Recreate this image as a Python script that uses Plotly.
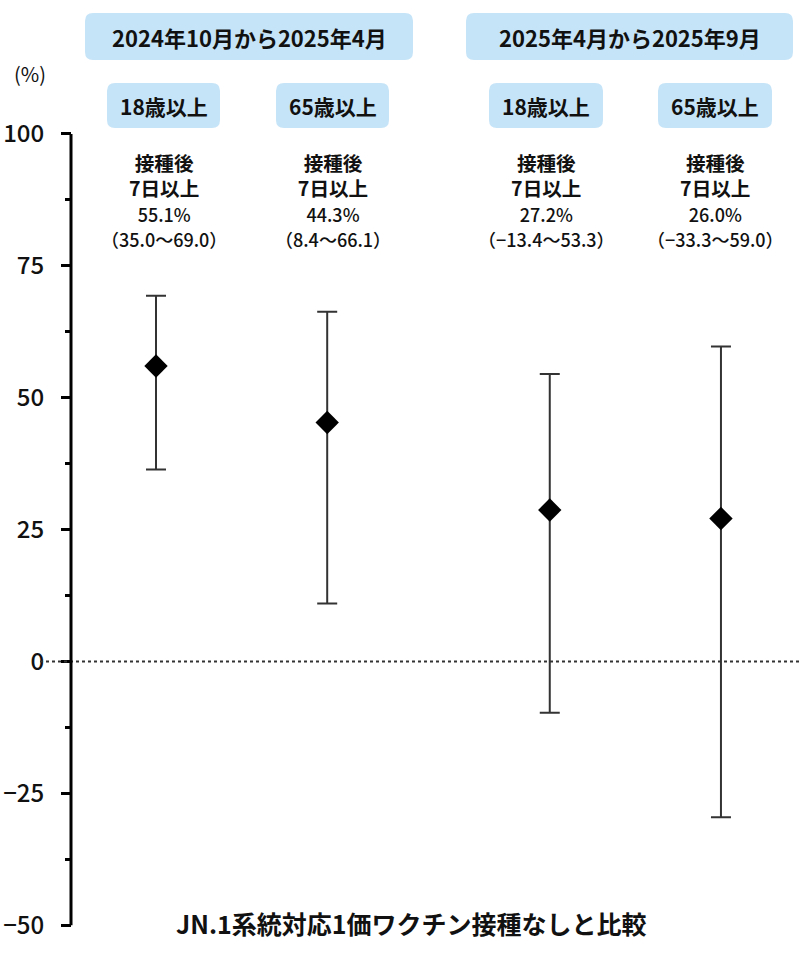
import plotly.graph_objects as go

# Datos del gráfico
periodos = ["2024年10月から2025年4月", "2025年4月から2025年9月"]
edades = ["18歳以上", "65歳以上", "18歳以上", "65歳以上"]
grupo = [0, 0, 1, 1]
estimado = [56.0, 45.3, 28.7, 27.1]
ic_bajo = [36.4, 11.0, -9.7, -29.5]
ic_alto = [69.3, 66.3, 54.5, 59.7]
etiqueta_pct = ["55.1%", "44.3%", "27.2%", "26.0%"]
etiqueta_ic = ["（35.0～69.0）", "（8.4～66.1）", "（−13.4～53.3）", "（−33.3～59.0）"]
titulo_x = "JN.1系統対応1価ワクチン接種なしと比較"

W, H = 800, 959
L = 40
FONT = "Noto Sans CJK JP"
AZUL = "#c6e4f7"

# posiciones x con hueco entre periodos
x_pos = [i + 1 + 0.3 * g for i, g in enumerate(grupo)]


def px_x(p):
    return (p - L) / (W - L)


def px_y(p):
    return 1 - p / H


def caja(x0, y0, x1, y1, r=8):
    pts = [
        ("M", x0 + r, y0), ("L", x1 - r, y0), ("Q", x1, y0, x1, y0 + r),
        ("L", x1, y1 - r), ("Q", x1, y1, x1 - r, y1), ("L", x0 + r, y1),
        ("Q", x0, y1, x0, y1 - r), ("L", x0, y0 + r), ("Q", x0, y0, x0 + r, y0),
    ]
    s = ""
    for p in pts:
        cmd, coords = p[0], p[1:]
        parts = []
        for k in range(0, len(coords), 2):
            parts.append(f"{px_x(coords[k]):.5f},{px_y(coords[k + 1]):.5f}")
        s += cmd + " ".join(parts) + " "
    return dict(type="path", path=s + "Z", xref="paper", yref="paper",
                fillcolor=AZUL, line=dict(width=0), layer="below")


fig = go.Figure()
fig.add_trace(go.Scatter(
    x=x_pos, y=estimado, mode="markers",
    marker=dict(symbol="diamond", size=18, color="black"),
    error_y=dict(type="data", symmetric=False,
                 array=[a - e for a, e in zip(ic_alto, estimado)],
                 arrayminus=[e - b for e, b in zip(estimado, ic_bajo)],
                 color="#333333", thickness=2, width=10),
    showlegend=False, cliponaxis=False,
))

# línea de cero punteada
fig.add_hline(y=0, line=dict(color="#333333", width=2, dash="dot"))

# eje y dibujado a mano entre -50 y 100
x_eje = 1 - (156 - 71) / 171.2
fig.add_shape(type="line", xref="x", yref="y", x0=x_eje, x1=x_eje, y0=-50, y1=100,
              line=dict(color="black", width=3))

# cajas de cabecera
cajas_periodo = [(85, 13, 413, 60), (466, 13, 793, 60)]
cajas_edad = [(107, 83, 220, 128), (276, 83, 389, 128), (489, 83, 603, 128), (658, 83, 772, 128)]
for c in cajas_periodo + cajas_edad:
    fig.add_shape(**caja(*c))

anns = []
for txt, c in zip(periodos, cajas_periodo):
    anns.append(dict(text=f"<b>{txt}</b>", x=px_x((c[0] + c[2]) / 2), y=px_y(37),
                     font=dict(size=22, family=FONT, color="#111")))
for i, c in enumerate(cajas_edad):
    cx = px_x((c[0] + c[2]) / 2)
    anns.append(dict(text=f"<b>{edades[i]}</b>", x=cx, y=px_y(106),
                     font=dict(size=21, family=FONT, color="#111")))
    bloque = ("<b>接種後</b><br><b>7日以上</b><br>"
              f"<span style='font-size:18px'>{etiqueta_pct[i]}</span><br>"
              f"<span style='font-size:18px'>{etiqueta_ic[i]}</span>")
    anns.append(dict(text=bloque, x=cx, y=px_y(200),
                     font=dict(size=19.6, family=FONT, color="#111", weight=500)))
anns.append(dict(text="(%)", x=px_x(30), y=px_y(73),
                 font=dict(size=20, family=FONT, color="#111")))
anns.append(dict(text=f"<b>{titulo_x}</b>", x=px_x(411), y=px_y(923),
                 font=dict(size=25, family=FONT, color="#111")))
for a in anns:
    a.update(xref="paper", yref="paper", showarrow=False, xanchor="center", yanchor="middle")

fig.update_layout(
    width=W, height=H,
    margin=dict(l=L, r=0, t=0, b=0),
    plot_bgcolor="white", paper_bgcolor="white",
    annotations=anns,
    xaxis=dict(visible=False, range=[1 - (156 - L) / 171.2, 1 + (W - 156) / 171.2]),
    yaxis=dict(
        range=[-56.39, 125.38],
        anchor="free", position=(71 - L) / (W - L),
        tickvals=[-50, -25, 0, 25, 50, 75, 100],
        ticktext=["−50", "−25", "0", "25", "50", "75", "100"],
        ticks="outside", ticklen=10, tickwidth=2.5, tickcolor="black",
        minor=dict(tickvals=[-37.5, -12.5, 12.5, 37.5, 62.5, 87.5],
                   ticks="outside", ticklen=6, tickwidth=2.5, tickcolor="black"),
        showline=False, showgrid=False, zeroline=False,
        tickfont=dict(size=24, family=FONT, color="#111", weight=500),
        ticklabelstandoff=12,
    ),
)

fig.write_html("out.html", config={"displayModeBar": False},
               post_script="document.body.style.margin='0';")
